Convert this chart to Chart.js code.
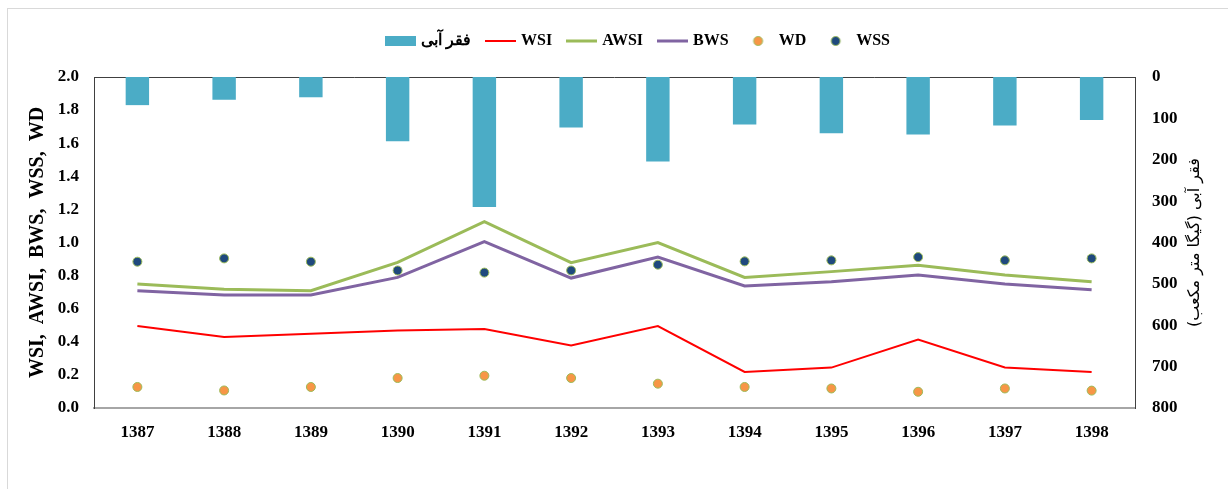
<!DOCTYPE html>
<html>
<head>
<meta charset="utf-8">
<script src="https://cdn.jsdelivr.net/npm/chart.js@4.4.0/dist/chart.umd.min.js"></script>
<style>
  html, body { margin: 0; padding: 0; background: #fff; }
  #wrap { position: relative; width: 1228px; height: 489px; overflow: hidden; }
  #frame { position: absolute; left: 7px; top: 8px; width: 1240px; height: 500px; border: 1px solid #d9d9d9; }
  #myChart { position: absolute; left: 0; top: 0; }
</style>
</head>
<body>
<div id="wrap">
  <div id="frame"></div>
  <canvas id="myChart" width="1228" height="489"></canvas>
</div>
<script>
// years (solar hijri)
const years = ['1387', '1388', '1389', '1390', '1391', '1392', '1393', '1394', '1395', '1396', '1397', '1398'];

// water deficit, right axis (reversed)
const waterDeficit = [68, 55, 49, 155, 314, 122, 204, 115, 136, 139, 117, 104];

// index series, left axis
const wsi = [0.495, 0.429, 0.449, 0.469, 0.477, 0.378, 0.495, 0.218, 0.244, 0.413, 0.245, 0.218];
const awsi = [0.749, 0.717, 0.709, 0.880, 1.126, 0.878, 1.000, 0.789, 0.824, 0.862, 0.804, 0.763];
const bws = [0.709, 0.683, 0.683, 0.789, 1.005, 0.785, 0.912, 0.737, 0.763, 0.804, 0.749, 0.715];
const wd = [0.127, 0.106, 0.127, 0.181, 0.195, 0.181, 0.147, 0.127, 0.118, 0.098, 0.118, 0.105];
const wss = [0.884, 0.904, 0.884, 0.831, 0.818, 0.831, 0.866, 0.886, 0.892, 0.912, 0.892, 0.904];

const leftMax = 2.0;
const leftStep = 0.2;
const rightMax = 800;
const rightStep = 100;

const leftTitle = 'WSI,  AWSI,  BWS,  WSS,  WD';
const rightTitle = 'فقر آبی (گیگا متر مکعب)';

const serif = '"Liberation Serif", "Times New Roman", serif';

// legend swatches like excel
const swatch = draw => {
  const c = document.createElement('canvas');
  c.width = 31;
  c.height = 14;
  draw(c.getContext('2d'));
  return c;
};
const lineSwatch = (color, w) => swatch(g => { g.fillStyle = color; g.fillRect(0, 7 - w / 2, 31, w); });
const dotSwatch = fill => swatch(g => {
  g.beginPath();
  g.arc(15.5, 7, 4.5, 0, Math.PI * 2);
  g.fillStyle = fill;
  g.fill();
  g.lineWidth = 1;
  g.strokeStyle = '#9BBB59';
  g.stroke();
});
const swatches = [
  swatch(g => { g.fillStyle = '#4BACC6'; g.fillRect(0, 2, 31, 10); }),
  lineSwatch('#FF0000', 2),
  lineSwatch('#9BBB59', 3),
  lineSwatch('#8064A2', 3),
  dotSwatch('#F79646'),
  dotSwatch('#1F497D'),
];

const frameLines = {
  id: 'frameLines',
  beforeDatasetsDraw(chart) {
    const { ctx, chartArea } = chart;
    ctx.save();
    ctx.strokeStyle = '#404040';
    ctx.lineWidth = 1;
    ctx.beginPath();
    ctx.moveTo(chartArea.left, chartArea.top + 0.5);
    ctx.lineTo(chartArea.right, chartArea.top + 0.5);
    ctx.stroke();
    ctx.restore();
  },
  afterDraw(chart) {
    // excel rotates the secondary title the same way as the primary one
    const { ctx, chartArea } = chart;
    const s = chart.scales.y1;
    ctx.save();
    ctx.translate(s.left + 60, (chartArea.top + chartArea.bottom) / 2);
    ctx.rotate(-Math.PI / 2);
    ctx.direction = 'rtl';
    ctx.textAlign = 'center';
    ctx.textBaseline = 'middle';
    ctx.fillStyle = '#000';
    ctx.font = '16px "DejaVu Sans", sans-serif';
    ctx.fillText(rightTitle, 0, 0);
    ctx.restore();
  },
};

const ctx = document.getElementById('myChart');
const myChart = new Chart(ctx, {
  type: 'bar',
  data: {
    labels: years,
    datasets: [
      {
        label: 'فقر آبی',
        data: waterDeficit,
        yAxisID: 'y1',
        backgroundColor: '#4BACC6',
        barPercentage: 0.27,
        categoryPercentage: 1,
        order: 10,
      },
      {
        type: 'line',
        label: 'WSI',
        data: wsi,
        borderColor: '#FF0000',
        borderWidth: 2,
        pointRadius: 0,
        tension: 0,
        order: 5,
      },
      {
        type: 'line',
        label: 'AWSI',
        data: awsi,
        borderColor: '#9BBB59',
        borderWidth: 3,
        pointRadius: 0,
        tension: 0,
        order: 5,
      },
      {
        type: 'line',
        label: 'BWS',
        data: bws,
        borderColor: '#8064A2',
        borderWidth: 3,
        pointRadius: 0,
        tension: 0,
        order: 5,
      },
      {
        type: 'line',
        label: 'WD',
        data: wd,
        showLine: false,
        pointRadius: 4.5,
        pointBackgroundColor: '#F79646',
        pointBorderColor: '#9BBB59',
        pointBorderWidth: 1,
        order: 1,
      },
      {
        type: 'line',
        label: 'WSS',
        data: wss,
        showLine: false,
        pointRadius: 4.5,
        pointBackgroundColor: '#1F497D',
        pointBorderColor: '#9BBB59',
        pointBorderWidth: 1,
        order: 1,
      },
    ],
  },
  options: {
    responsive: false,
    animation: false,
    // left padding only nudges the centred legend to the right, as in the excel original
    layout: { padding: { top: 16, left: 50 } },
    plugins: {
      legend: {
        labels: {
          font: { family: serif, size: 16, weight: 'bold' },
          color: '#000',
          usePointStyle: true,
          pointStyleWidth: 25,
          padding: 17,
          generateLabels(chart) {
            const items = Chart.defaults.plugins.legend.labels.generateLabels(chart);
            items.forEach(it => { it.pointStyle = swatches[it.datasetIndex]; });
            return items;
          },
          sort: (a, b) => a.datasetIndex - b.datasetIndex,
        },
      },
      // empty spacer between legend and plot
      subtitle: { display: true, text: '', weight: 500, padding: 0, font: { size: 18, lineHeight: 1 } },
      tooltip: { enabled: false },
    },
    scales: {
      x: {
        grid: { display: false, drawTicks: false },
        border: { display: true, color: '#A6A6A6', width: 2 },
        ticks: { color: '#000', font: { family: serif, size: 17, weight: 'bold' }, padding: 14 },
        afterFit: s => { s.height = 81; },
      },
      y: {
        position: 'left',
        min: 0,
        max: leftMax,
        grid: { display: false, drawTicks: false },
        border: { display: true, color: '#404040', width: 1 },
        ticks: {
          stepSize: leftStep,
          color: '#000',
          font: { family: serif, size: 17, weight: 'bold' },
          padding: 15,
          callback: v => v.toFixed(1),
        },
        title: {
          display: true,
          text: leftTitle,
          color: '#000',
          font: { family: serif, size: 20, weight: 'bold' },
          padding: { top: -24, bottom: 0 },
        },
        afterFit: s => { s.width = 44; },
      },
      y1: {
        position: 'right',
        min: 0,
        max: rightMax,
        reverse: true,
        grid: { display: false, drawTicks: false },
        border: { display: true, color: '#404040', width: 1 },
        ticks: {
          stepSize: rightStep,
          color: '#000',
          font: { family: serif, size: 17, weight: 'bold' },
          padding: 17,
        },
        afterFit: s => { s.width = 93; },
      },
    },
  },
  plugins: [frameLines],
});
</script>
</body>
</html>
